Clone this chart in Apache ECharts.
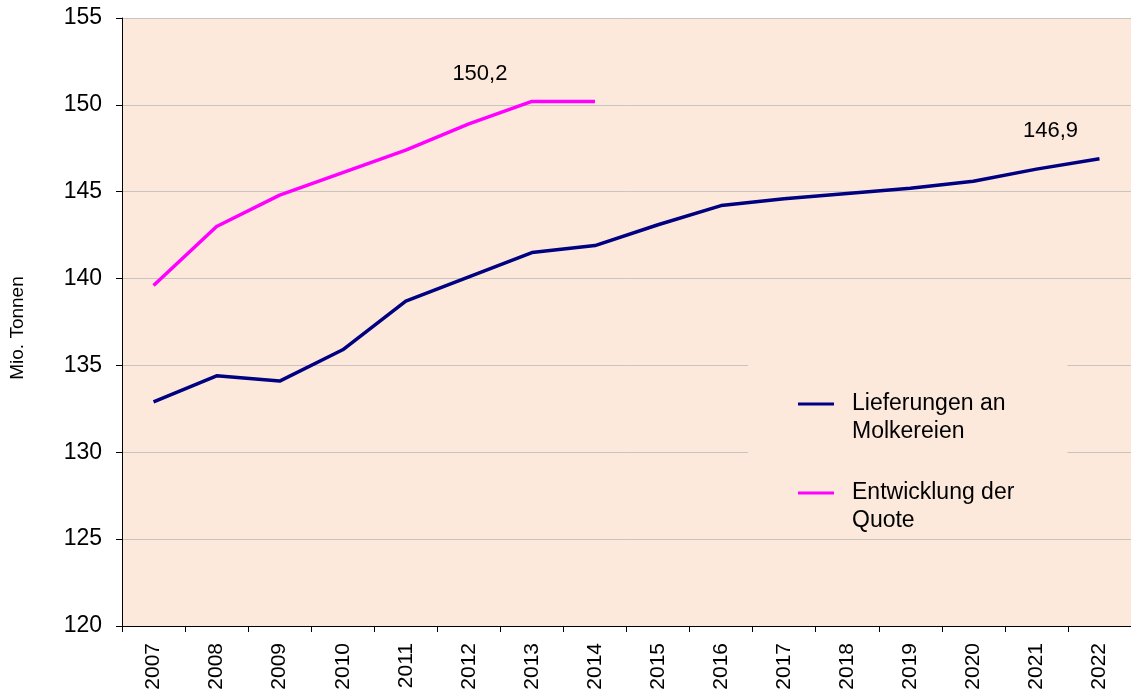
<!DOCTYPE html>
<html>
<head>
<meta charset="utf-8">
<script src="https://cdn.jsdelivr.net/npm/echarts@6/dist/echarts.min.js"></script>
<style>
html,body{margin:0;padding:0;background:#fff;}
#c{width:1131px;height:695px;}
</style>
</head>
<body>
<div id="c"></div>
<script>
const years = ['2007','2008','2009','2010','2011','2012','2013','2014','2015','2016','2017','2018','2019','2020','2021','2022'];
const lieferungen = [132.9,134.4,134.1,135.9,138.7,140.1,141.5,141.9,143.1,144.2,144.6,144.9,145.2,145.6,146.3,146.9];
const quote = [139.6,143.0,144.8,146.1,147.4,148.9,150.2,150.2];
const yTicks = {min:120, max:155, interval:5};
const seriesNames = ['Lieferungen an Molkereien','Entwicklung der Quote'];
const legendTexts = ['Lieferungen an\nMolkereien','Entwicklung der\nQuote'];
const yName = 'Mio. Tonnen';

const fontFam = '"Liberation Sans", Arial, sans-serif';
const fmt = v => String(v).replace('.', ',');

function withLabel(arr, idx, offset){
  return arr.map((v,i)=> i===idx ? {value:v, label:{show:true, position:'top', offset:offset,
    formatter: p => fmt(p.value), color:'#000', fontSize:22, fontFamily:fontFam}} : v);
}

const chart = echarts.init(document.getElementById('c'), null, {renderer:'canvas'});
chart.setOption({
  animation:false,
  backgroundColor:'#ffffff',
  grid:{left:122, right:0, top:18, bottom:69, show:true, backgroundColor:'#FCE9DC', borderWidth:0,
        containLabel:false, outerBoundsMode:'none'},
  xAxis:{
    type:'category', data:years, boundaryGap:true,
    axisLine:{lineStyle:{color:'#000', width:1}},
    axisTick:{show:true, length:6, lineStyle:{color:'#000'}},
    axisLabel:{rotate:90, margin:17, color:'#000', fontSize:21, fontFamily:fontFam}
  },
  yAxis:{
    type:'value', min:yTicks.min, max:yTicks.max, interval:yTicks.interval,
    name:yName, nameLocation:'middle', nameGap:95, nameRotate:90,
    nameTextStyle:{color:'#000', fontSize:19, fontFamily:fontFam, padding:[0,12,0,0]},
    axisLine:{show:true, lineStyle:{color:'#000', width:1}},
    axisTick:{show:true, length:6, lineStyle:{color:'#000'}},
    axisLabel:{margin:20, color:'#000', fontSize:23, fontFamily:fontFam},
    splitLine:{show:true, lineStyle:{color:'#C8C4C0', width:1}}
  },
  legend:{
    orient:'vertical', left:748, top:358,
    padding:[4,53,0,50], itemGap:5,
    backgroundColor:'#FCE9DC',
    itemWidth:36, itemHeight:14,
    icon:'path://M0,5.5 L36,5.5 L36,8.5 L0,8.5 Z',
    data:seriesNames,
    formatter: n => '\n' + legendTexts[seriesNames.indexOf(n)],
    textStyle:{color:'#000', fontSize:23, lineHeight:28, fontFamily:fontFam, padding:[0,0,0,13]}
  },
  series:[
    {name:seriesNames[0], type:'line', data:withLabel(lieferungen, 15, [-49,-12]),
     symbol:'circle', symbolSize:0, showSymbol:true, lineStyle:{color:'#000080', width:3.5}, itemStyle:{color:'#000080'}, z:3},
    {name:seriesNames[1], type:'line', data:withLabel(quote, 6, [-52,-11]),
     symbol:'circle', symbolSize:0, showSymbol:true, lineStyle:{color:'#FF00FF', width:3.5}, itemStyle:{color:'#FF00FF'}, z:3}
  ]
});
</script>
</body>
</html>
